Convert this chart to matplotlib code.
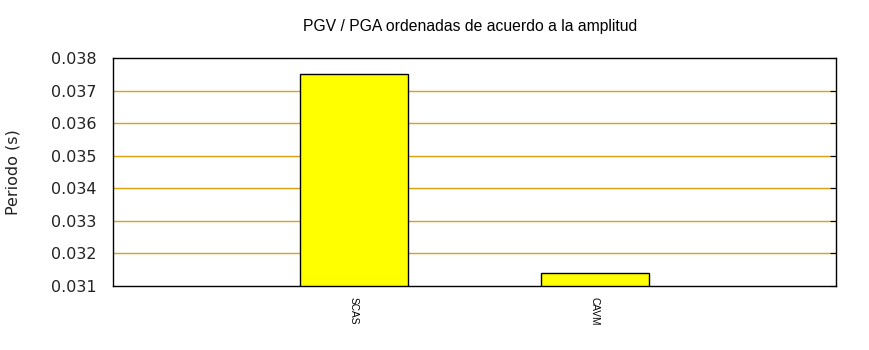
import matplotlib
matplotlib.use("Agg")
import matplotlib.pyplot as plt

categories = ["SCAS", "CAVM"]
values = [0.0375, 0.0314]
yticks = [0.031, 0.032, 0.033, 0.034, 0.035, 0.036, 0.037, 0.038]

fig = plt.figure(figsize=(8.7, 3.5), dpi=100)
ax = fig.add_axes([113/870, 1-286/350, (836-113)/870, (286-58)/350])

x = list(range(1, len(categories) + 1))
ax.bar(x, values, width=0.45, color="#ffff00", edgecolor="black", linewidth=1.0, zorder=3)

ax.set_xlim(0, len(categories) + 1)
ax.set_ylim(0.031, 0.038)
ax.set_yticks(yticks)
ax.set_yticklabels([f"{v:.3f}" for v in yticks], fontsize=11.5, color="#222222")
for v in yticks[1:-1]:
    ax.axhline(v, color="#e0a010", linewidth=1.0, zorder=1)

ax.set_xticks(x)
ax.set_xticklabels(categories, rotation=-90, fontsize=7.3, family="Liberation Sans")
ax.tick_params(axis="x", length=0, pad=8)
ax.tick_params(axis="y", which="both", left=False, right=True, direction="in", length=4, pad=12)

for s in ax.spines.values():
    s.set_linewidth(1.0)
    s.set_zorder(5)

ax.set_ylabel("Periodo (s)", fontsize=11.5, color="#222222")
ax.yaxis.set_label_coords((21 - 113) / 723, 0.5)
fig.text(470/870, 1-27/350, "PGV / PGA ordenadas de acuerdo a la amplitud",
         ha="center", va="center", fontsize=11.3, family="Liberation Sans")

fig.savefig("out.png", dpi=100)
